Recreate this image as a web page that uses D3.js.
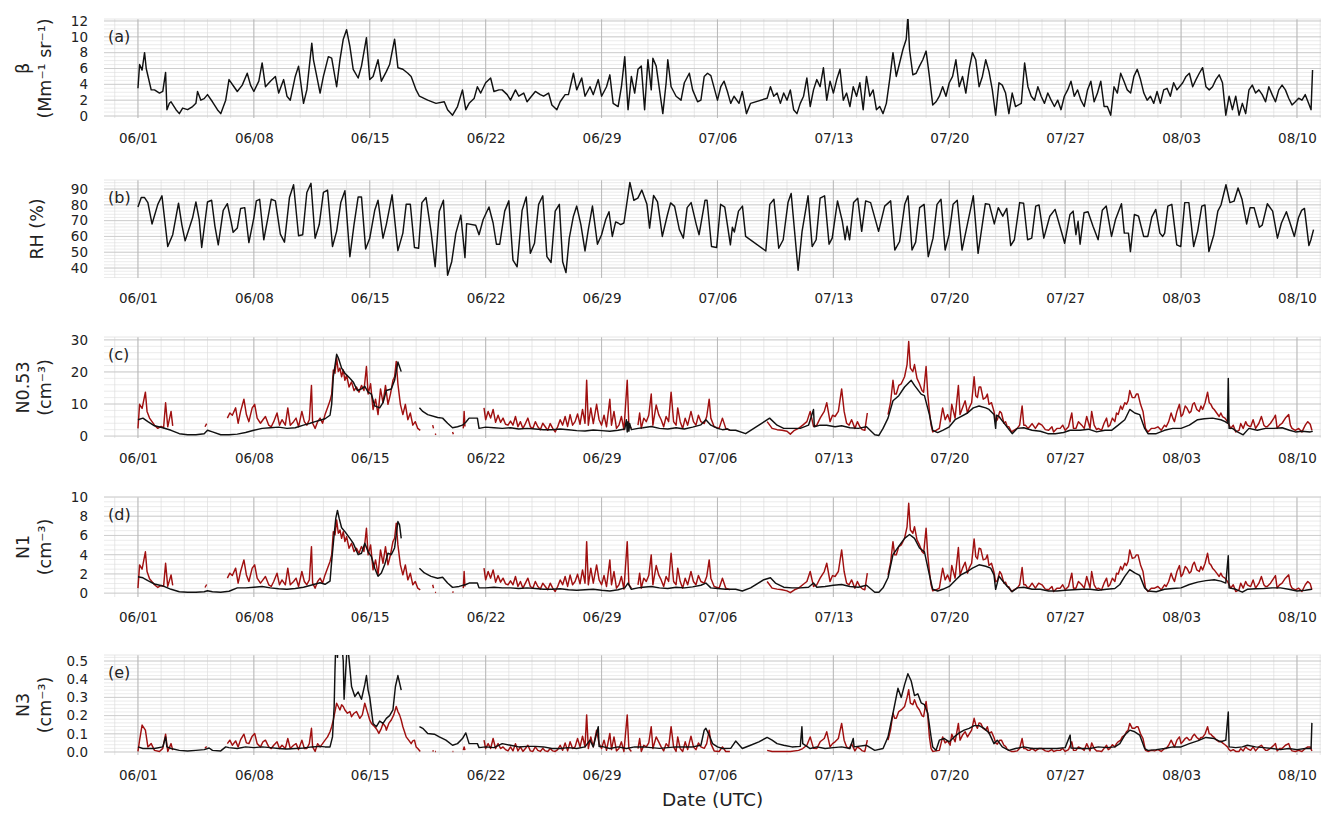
<!DOCTYPE html>
<html>
<head>
<meta charset="utf-8">
<script src="https://cdnjs.cloudflare.com/ajax/libs/d3/7.8.5/d3.min.js"></script>
<style>
  body { margin: 0; background: #fff; }
  svg { font-family: "DejaVu Sans", sans-serif; }
</style>
</head>
<body>
<div id="chart"></div>
<script>
// ---- data: [day offset from 06/01 00:00 UTC, value]; null = missing ----
const beta = [[0,3.5],[0.1,6.5],[0.25,5.8],[0.4,8.0],[0.5,6.0],[0.8,3.3],[1,3.3],[1.3,2.9],[1.5,3.1],[1.67,5.5],[1.75,0.8],[1.9,1.6],[2,1.8],[2.3,0.8],[2.5,0.3],[2.7,1.0],[3,0.8],[3.3,1.2],[3.5,1.6],[3.6,3.1],[3.8,2.0],[4,2.2],[4.2,2.7],[4.5,1.8],[4.8,0.8],[5,0.3],[5.3,2.0],[5.5,4.6],[5.8,3.7],[6,3.1],[6.3,3.9],[6.6,5.4],[6.8,3.9],[7,3.1],[7.3,4.4],[7.5,6.7],[7.7,3.7],[8,4.4],[8.3,5.0],[8.5,2.9],[8.8,4.6],[9,2.5],[9.2,2.0],[9.5,5.0],[9.7,6.3],[10,1.6],[10.2,3.3],[10.5,9.2],[10.6,7.1],[10.8,5.0],[11,2.9],[11.2,5.0],[11.5,7.5],[11.7,7.3],[12,3.7],[12.2,7.1],[12.4,9.7],[12.6,10.9],[12.8,8.8],[13,5.9],[13.3,4.8],[13.5,6.3],[13.6,7.5],[13.8,9.9],[14,4.6],[14.2,5.0],[14.5,7.1],[14.7,4.4],[15,5.6],[15.2,6.5],[15.5,9.7],[15.7,6.1],[16,5.9],[16.3,5.4],[16.5,5.0],[16.8,3.3],[17,2.5],[17.5,2.0],[18,1.6],[18.5,1.8],[18.7,0.8],[19,0.1],[19.3,1.2],[19.6,3.3],[19.8,0.8],[20,1.6],[20.3,2.2],[20.5,3.7],[20.7,2.9],[21,4.2],[21.3,4.8],[21.5,3.1],[21.8,3.3],[22,3.3],[22.3,2.7],[22.5,2.0],[22.8,3.3],[23,2.5],[23.3,2.9],[23.5,1.8],[24,3.1],[24.3,2.7],[24.5,2.5],[24.8,2.9],[25,1.4],[25.3,0.8],[25.5,1.8],[25.8,2.7],[26,2.7],[26.3,5.4],[26.5,3.3],[26.8,4.8],[27,2.5],[27.3,3.7],[27.5,2.7],[27.8,4.6],[28,2.5],[28.3,3.7],[28.5,5.2],[28.7,1.6],[29,1.2],[29.2,3.7],[29.4,7.5],[29.6,0.8],[29.8,5.0],[30,2.9],[30.2,5.9],[30.4,6.3],[30.6,0.8],[30.8,7.1],[31,3.3],[31.1,7.3],[31.3,6.3],[31.5,3.3],[31.7,0.3],[31.9,4.2],[32,7.1],[32.2,3.7],[32.5,2.5],[32.8,2.0],[33,4.2],[33.3,5.4],[33.5,3.3],[33.8,1.8],[34,2.0],[34.2,5.0],[34.4,5.4],[34.6,5.1],[35,2.0],[35.2,3.7],[35.4,4.4],[35.6,3.1],[35.8,1.6],[36,2.5],[36.3,1.6],[36.5,3.1],[36.75,0.3],[37,1.6],[38,2.25],[38.2,3.7],[38.4,2.5],[38.6,2.9],[38.8,1.6],[39,2.9],[39.2,2.0],[39.4,3.3],[39.6,0.8],[39.8,0.3],[40,1.6],[40.2,2.5],[40.4,4.8],[40.6,1.2],[40.8,3.3],[41,4.6],[41.2,3.7],[41.4,6.1],[41.6,2.0],[41.8,4.4],[42,2.9],[42.2,4.6],[42.4,5.9],[42.6,2.0],[42.8,2.9],[43,1.2],[43.2,3.7],[43.4,2.5],[43.6,4.2],[43.8,0.8],[44,5.0],[44.2,2.5],[44.4,3.3],[44.6,0.8],[44.8,1.2],[45,0.3],[45.2,1.6],[45.4,4.6],[45.6,8.0],[45.8,5.0],[46,6.7],[46.2,8.4],[46.4,9.7],[46.5,12.6],[46.6,8.4],[46.8,5.2],[47,5.4],[47.2,6.3],[47.4,7.1],[47.6,8.2],[47.8,5.0],[48,1.4],[48.2,1.8],[48.4,2.5],[48.6,3.7],[48.8,2.5],[49,4.2],[49.2,5.0],[49.4,7.1],[49.6,3.7],[49.8,5.0],[50,2.9],[50.2,5.9],[50.4,8.0],[50.6,7.1],[50.8,3.7],[51,5.0],[51.2,7.1],[51.4,5.6],[51.6,3.3],[51.8,0.1],[52,4.2],[52.2,3.9],[52.4,2.9],[52.6,0.3],[52.8,2.9],[53,1.2],[53.35,1.6],[53.55,6.7],[53.75,3.7],[53.95,2.5],[54.15,2.0],[54.35,3.7],[54.55,2.5],[54.75,1.6],[54.95,2.9],[55.15,2.0],[55.35,1.2],[55.55,2.0],[55.75,0.8],[55.95,2.5],[56.15,3.3],[56.35,4.4],[56.55,2.5],[56.75,3.3],[56.95,2.0],[57.15,1.2],[57.35,3.3],[57.55,4.4],[57.75,1.8],[57.95,2.9],[58.15,4.4],[58.35,1.2],[58.55,1.2],[58.75,0.1],[58.95,3.7],[59.15,2.9],[59.35,5.4],[59.55,4.4],[59.75,3.3],[59.95,2.9],[60.15,5.0],[60.35,5.9],[60.55,4.6],[60.75,2.9],[60.95,2.0],[61.15,2.5],[61.35,1.6],[61.55,3.1],[61.75,1.6],[61.95,3.3],[62.15,3.5],[62.35,2.5],[62.55,4.2],[62.75,3.3],[63.1,4.2],[63.3,5.0],[63.5,5.4],[63.7,3.7],[63.9,4.6],[64.1,5.4],[64.3,6.1],[64.5,3.7],[64.7,3.3],[64.9,3.7],[65.1,4.6],[65.3,5.2],[65.5,4.2],[65.7,0.1],[65.9,2.5],[66.1,0.8],[66.3,2.5],[66.5,0.1],[66.7,1.6],[66.9,0.3],[67.1,3.3],[67.3,3.9],[67.5,2.9],[67.7,3.3],[67.9,2.7],[68.1,1.8],[68.3,3.7],[68.5,2.7],[68.7,1.8],[68.9,3.3],[69.1,3.9],[69.3,3.3],[69.5,2.25],[69.7,1.4],[69.9,1.8],[70.1,2.25],[70.3,2.0],[70.5,2.7],[70.7,1.6],[70.85,0.8],[70.94,5.8]];

const rh = [[0,78.6],[0.2,84.6],[0.4,84.6],[0.6,81.4],[0.85,67.9],[1.2,80.3],[1.45,85.7],[1.8,53.6],[2.1,61.1],[2.45,81],[2.65,67.5],[2.85,57.2],[3.3,71.8],[3.5,81.8],[3.7,70.7],[3.85,53],[4.2,81.8],[4.45,82.9],[4.65,66.4],[4.85,54.7],[5.15,76.5],[5.4,80.7],[5.6,70.7],[5.75,62.6],[6.0,65.3],[6.2,77.7],[6.45,78.2],[6.7,56.1],[7.0,71.8],[7.15,82.5],[7.35,83.5],[7.6,57.9],[7.85,71.8],[8.05,83.5],[8.3,82.5],[8.6,61.5],[8.85,56.4],[9.15,84.6],[9.4,92.7],[9.7,60.4],[9.95,61.1],[10.2,87.8],[10.45,93.6],[10.7,58.9],[10.95,67.5],[11.2,87.8],[11.45,89.3],[11.75,53.6],[12.0,63.2],[12.25,81.4],[12.5,88.9],[12.8,47.2],[13.05,67.5],[13.3,85],[13.5,85],[13.75,52.1],[14.0,58.9],[14.3,76.5],[14.5,82.9],[14.8,58.9],[15.0,67.5],[15.35,86.3],[15.7,51],[16.0,62.1],[16.2,80.3],[16.45,80.3],[16.7,53],[16.95,52.5],[17.15,81.4],[17.4,84.6],[17.7,63.2],[17.95,40.8],[18.2,76],[18.45,82.9],[18.7,35.4],[18.95,44],[19.2,62.1],[19.5,73.5],[19.75,46.6],[19.85,68.1],[20.4,67.1],[20.6,61.1],[20.85,70.7],[21.2,78.6],[21.45,68.5],[21.65,55.1],[21.85,55.1],[22.15,76],[22.4,82.5],[22.65,45],[22.9,40.8],[23.2,76.5],[23.45,85],[23.7,49.3],[23.95,55.7],[24.2,80.3],[24.45,85.7],[24.7,47.2],[24.95,43.5],[25.2,76],[25.45,80.3],[25.65,44],[25.85,37.1],[26.05,58.9],[26.3,72.8],[26.5,79.2],[26.75,67.5],[27.0,50.8],[27.2,64.3],[27.45,79.2],[27.75,55.1],[28.0,61.1],[28.25,70.7],[28.45,75.6],[28.65,60],[28.85,69.2],[29.0,68.5],[29.15,67.5],[29.35,68.5],[29.71,94.2],[29.95,82.9],[30.19,84.2],[30.43,89.3],[30.74,80.3],[30.9,65.3],[31.14,85.9],[31.38,81.8],[31.67,60],[31.98,73.7],[32.17,81.2],[32.41,79],[32.7,64.3],[32.94,58.9],[33.17,78.2],[33.41,81.4],[33.72,67.5],[33.89,61.1],[34.25,82.9],[34.37,82.9],[34.64,53.6],[34.95,53],[35.19,80.3],[35.44,78.6],[35.78,54.7],[35.9,65.8],[36.02,62.8],[36.27,76],[36.51,79.2],[36.7,60],[37.92,50.8],[38.16,80.3],[38.41,83.5],[38.7,52.5],[38.97,57.9],[39.26,81.4],[39.45,87.2],[39.87,38.6],[40.11,63.2],[40.47,85.7],[40.72,53.6],[40.96,57.9],[41.2,84.2],[41.47,85.7],[41.74,55.1],[41.93,58.9],[42.25,82.5],[42.54,69.6],[42.71,57.9],[42.83,66.4],[42.98,57.9],[43.22,81.4],[43.47,84.2],[43.71,63.2],[43.95,82.5],[44.25,81.4],[44.73,63.2],[45.1,79.2],[45.46,82.5],[45.71,51.4],[46.0,56.8],[46.31,80.3],[46.51,85.7],[46.75,51.4],[46.97,56.4],[47.21,78.2],[47.48,80.3],[47.73,47.2],[48.02,58.9],[48.26,80.3],[48.5,83.5],[48.75,51.4],[48.99,61.1],[49.23,80.3],[49.48,82.9],[49.77,51.4],[50.09,67.5],[50.45,85.7],[50.74,49.3],[51.18,80.7],[51.42,80.3],[51.72,67.9],[51.96,78.2],[52.23,72.8],[52.47,77.7],[52.71,54.2],[52.93,57.9],[53.25,81.4],[53.49,81],[53.73,57.9],[53.98,58.9],[54.22,79.2],[54.42,79.9],[54.71,58.9],[55.07,72.8],[55.39,77.1],[55.68,66.4],[55.97,55.7],[56.29,73.9],[56.48,76],[56.65,61.1],[56.78,69.6],[56.9,55.1],[57.14,75],[57.38,75.6],[57.68,66.4],[57.99,57.9],[58.24,76.5],[58.48,79.2],[58.8,60],[59.04,70.7],[59.4,80.7],[59.57,62.1],[59.82,62.1],[59.94,50.4],[60.18,73.9],[60.43,72.8],[60.74,60],[60.99,60],[61.23,72.2],[61.47,77.1],[61.72,62.1],[61.89,60],[62.01,62.1],[62.2,79.2],[62.44,80.3],[62.74,54.7],[62.98,53.6],[63.22,81.4],[63.47,81.4],[63.76,53.6],[64.0,63.2],[64.25,79.2],[64.44,79.9],[64.68,50.4],[64.98,61.1],[65.22,76],[65.41,79.9],[65.71,92.7],[65.95,81.4],[66.2,82.3],[66.44,90.6],[66.68,83.5],[66.96,67.9],[67.17,78.2],[67.41,78.2],[67.73,65.8],[67.9,67.1],[68.21,80.7],[68.53,76],[68.82,58.9],[69.06,68.5],[69.36,75.6],[69.6,67.9],[69.84,60],[70.09,71.8],[70.28,76.5],[70.45,77.7],[70.72,54.2],[70.84,57.9],[71.0,64.3]];

const n053Black = [[0,5.1],[0.3,5.6],[0.6,4.5],[1,3.2],[1.5,2.6],[2,1.8],[2.5,0.75],[3,0.4],[3.5,0.4],[4,0.75],[4.2,1.8],[4.5,1.3],[5,0.4],[5.5,0.4],[6,0.6],[6.5,1.1],[7,1.8],[7.5,2.4],[8,2.6],[8.5,2.8],[9,2.4],[9.5,2.6],[10,3.4],[10.4,4.0],[10.7,4.5],[11.1,5.1],[11.3,5.4],[11.6,6.5],[11.7,9.9],[11.8,18.5],[12.0,25.5],[12.1,24.4],[12.3,21.2],[12.5,19.6],[12.8,18.0],[13.0,16.9],[13.25,14.2],[13.5,14.7],[13.7,15.5],[13.9,13.7],[14.1,13.1],[14.3,9.4],[14.6,8.8],[14.8,10.4],[15.0,14.2],[15.3,14.7],[15.5,17.4],[15.7,23.1],[15.9,20.1],[15.95,null],[17.0,8.8],[17.2,7.7],[17.5,6.7],[18.1,5.8],[18.4,5.6],[18.7,4.0],[19.0,2.6],[19.3,2.9],[19.6,3.4],[19.8,4.3],[20.0,5.6],[20.5,5.6],[20.6,2.4],[21,2.8],[21.5,2.6],[22,2.4],[22.5,2.6],[23,2.2],[23.5,2.4],[24,2.2],[24.5,2.0],[25,2.0],[25.5,2.2],[26,2.0],[26.5,1.7],[27,1.6],[27.5,1.9],[28,1.7],[28.5,1.5],[29,1.8],[29.4,2.2],[29.5,5.1],[29.55,1.3],[29.6,4.5],[29.65,1.5],[29.7,3.9],[29.8,2.0],[30.2,2.4],[30.5,2.6],[31,3.0],[31.5,2.4],[32,2.2],[32.5,2.6],[33,2.2],[33.5,2.8],[34,3.5],[34.3,5.1],[34.6,3.4],[35.0,2.4],[35.3,2.0],[35.6,2.2],[35.8,1.8],[36.1,1.8],[36.7,0.75],[38.15,5.6],[38.6,3.4],[39.0,2.4],[39.5,2.4],[40.0,2.4],[40.5,3.4],[40.8,8.3],[40.85,2.9],[41.2,3.4],[41.6,3.4],[42.1,2.9],[42.5,3.2],[43.0,2.6],[43.5,2.4],[44.0,2.9],[44.5,0.4],[44.75,0.2],[45.0,2.4],[45.3,5.6],[45.6,11.0],[45.95,12.6],[46.3,15.3],[46.7,17.4],[46.9,15.8],[47.3,13.1],[47.5,12.6],[47.8,6.7],[48.0,1.8],[48.3,1.1],[48.6,1.8],[49.0,2.9],[49.35,5.1],[49.7,6.1],[50.1,7.2],[50.45,8.8],[50.8,9.4],[51.2,8.8],[51.4,8.3],[51.7,6.7],[51.8,2.4],[51.85,6.5],[52.0,6.1],[52.4,3.4],[52.8,0.75],[53.1,2.4],[53.5,2.6],[54.0,1.8],[54.5,1.5],[54.95,0.75],[55.4,0.75],[55.9,1.1],[56.3,1.8],[56.9,1.8],[57.4,2.15],[57.9,1.3],[58.4,1.8],[58.8,1.8],[59.2,3.4],[59.6,5.1],[59.9,8.3],[60.2,7.2],[60.5,6.7],[60.8,2.4],[61.0,0.75],[61.5,0.75],[62.0,1.8],[62.5,2.4],[63.0,2.4],[63.5,3.4],[64.0,5.1],[64.4,5.4],[64.9,5.6],[65.4,5.1],[65.66,4.5],[65.8,4.0],[65.85,18.0],[65.9,2.4],[66.1,2.4],[66.4,1.3],[66.75,0.4],[67.1,2.4],[67.6,1.8],[68.1,2.4],[68.6,2.4],[69.1,2.6],[69.55,1.8],[69.9,1.3],[70.3,1.5],[70.8,1.3],[70.95,1.5]];

const n053Red = [[0,2.4],[0.1,9.9],[0.25,8.6],[0.45,13.7],[0.55,7.7],[0.7,5.6],[0.85,4.5],[1.0,3.4],[1.2,2.4],[1.4,3.0],[1.55,2.6],[1.67,10.4],[1.8,2.9],[2.0,7.7],[2.1,3.2],[2.2,null],[4.05,2.9],[4.15,3.9],[4.25,null],[5.4,5.6],[5.55,7.2],[5.7,6.5],[5.9,8.8],[6.05,4.0],[6.2,7.7],[6.4,11.5],[6.55,6.7],[6.7,4.5],[6.9,8.8],[7.05,9.9],[7.2,5.6],[7.4,4.0],[7.55,5.1],[7.7,6.1],[7.9,3.4],[8.05,2.9],[8.2,4.5],[8.4,7.2],[8.55,3.4],[8.7,5.1],[8.9,3.4],[9.05,8.8],[9.2,3.4],[9.4,4.5],[9.55,5.6],[9.7,2.9],[9.9,7.7],[10.05,4.5],[10.2,3.4],[10.35,5.1],[10.48,15.8],[10.55,4.0],[10.7,2.4],[10.85,4.5],[11.0,5.6],[11.15,4.0],[11.3,6.7],[11.45,8.8],[11.6,11.0],[11.7,13.1],[11.8,20.6],[11.9,19.6],[12.0,24.4],[12.1,20.1],[12.2,21.2],[12.3,18.5],[12.4,20.6],[12.5,17.4],[12.6,19.0],[12.75,15.3],[12.9,16.9],[13.05,14.2],[13.2,15.3],[13.35,13.7],[13.5,15.8],[13.65,14.2],[13.8,21.7],[13.9,13.1],[14.05,16.3],[14.2,8.3],[14.35,11.5],[14.5,6.7],[14.65,14.7],[14.8,10.4],[14.95,15.8],[15.1,9.9],[15.25,13.1],[15.4,17.4],[15.5,18.5],[15.6,23.3],[15.7,16.3],[15.85,9.9],[16.0,6.7],[16.15,9.9],[16.3,5.1],[16.45,7.2],[16.6,3.4],[16.75,4.5],[16.9,2.4],[17.05,1.8],[17.1,null],[17.8,3.4],[17.85,2.4],[17.9,null],[17.95,0.75],[18.0,0.4],[18.05,null],[19.0,1.3],[19.05,0.6],[19.1,null],[19.65,2.4],[19.7,7.7],[19.75,3.0],[19.8,null],[20.9,8.8],[21.0,5.1],[21.15,7.7],[21.3,5.6],[21.45,8.3],[21.6,4.3],[21.75,6.5],[21.9,4.3],[22.05,5.6],[22.2,3.7],[22.35,3.4],[22.5,4.7],[22.65,3.4],[22.8,6.1],[22.95,2.9],[23.1,4.5],[23.25,2.4],[23.4,3.9],[23.55,5.6],[23.7,2.9],[23.85,2.4],[24.0,4.5],[24.15,2.9],[24.3,2.0],[24.45,4.0],[24.6,2.9],[24.75,1.8],[24.9,3.9],[25.05,2.4],[25.2,1.3],[25.35,2.9],[25.5,5.1],[25.65,3.4],[25.8,6.1],[25.95,3.0],[26.1,6.7],[26.25,3.4],[26.4,4.5],[26.55,6.9],[26.7,3.7],[26.85,8.3],[27.0,4.0],[27.1,17.4],[27.2,3.4],[27.35,8.8],[27.5,3.9],[27.7,9.9],[27.85,5.1],[28.0,3.4],[28.15,6.5],[28.3,2.9],[28.5,11.5],[28.6,3.4],[28.75,7.7],[28.9,2.4],[29.05,3.4],[29.2,6.1],[29.35,2.0],[29.55,17.4],[29.65,3.4],[29.8,2.4],[29.9,null],[30.2,3.4],[30.3,7.2],[30.4,2.4],[30.55,5.6],[30.7,4.5],[30.85,6.5],[31.0,13.1],[31.1,3.4],[31.3,9.7],[31.45,6.7],[31.6,5.1],[31.75,2.9],[31.9,6.1],[32.05,4.5],[32.2,13.7],[32.35,4.5],[32.5,3.4],[32.6,8.8],[32.75,4.5],[32.9,2.4],[33.05,5.6],[33.2,3.4],[33.4,7.7],[33.55,4.5],[33.7,3.4],[33.85,6.5],[34.0,4.5],[34.2,3.9],[34.35,6.1],[34.5,11.5],[34.6,5.6],[34.8,2.9],[35.1,2.4],[35.3,5.6],[35.5,2.4],[35.75,1.8],[35.8,null],[38.0,4.5],[38.3,2.4],[38.6,2.0],[38.9,1.8],[39.2,1.5],[39.4,0.6],[39.65,1.8],[39.9,2.4],[40.15,3.4],[40.4,4.5],[40.6,7.7],[40.8,3.0],[41.0,3.4],[41.2,5.6],[41.45,7.7],[41.6,10.4],[41.8,4.5],[41.95,6.5],[42.1,6.1],[42.3,7.7],[42.5,14.7],[42.65,7.7],[42.8,4.0],[42.95,3.4],[43.1,5.1],[43.3,2.4],[43.45,4.5],[43.6,2.9],[43.75,2.0],[43.9,1.8],[44.05,7.2],[44.15,null],[45.3,6.7],[45.45,10.4],[45.6,17.4],[45.7,13.1],[45.8,13.1],[45.95,15.8],[46.1,16.3],[46.3,18.5],[46.45,22.3],[46.55,29.5],[46.65,21.2],[46.8,20.1],[46.9,22.3],[47.05,18.0],[47.2,16.3],[47.35,14.2],[47.45,13.7],[47.6,21.7],[47.7,13.1],[47.8,7.7],[47.9,3.4],[48.0,1.3],[48.2,1.8],[48.4,2.4],[48.6,8.8],[48.75,5.1],[48.9,6.7],[49.05,4.5],[49.15,9.9],[49.35,5.6],[49.55,15.8],[49.65,6.7],[49.8,8.8],[49.96,11.0],[50.1,7.2],[50.2,8.8],[50.35,10.4],[50.5,18.5],[50.6,12.6],[50.7,12.0],[50.8,15.3],[50.9,15.3],[51.05,11.5],[51.2,12.0],[51.3,13.1],[51.4,9.9],[51.55,10.4],[51.7,7.7],[51.8,4.5],[51.9,5.1],[52.05,7.7],[52.15,7.2],[52.3,4.0],[52.4,4.5],[52.5,2.9],[52.6,2.9],[52.75,1.3],[52.9,1.8],[53.1,2.4],[53.25,3.4],[53.4,9.4],[53.5,3.4],[53.6,3.4],[53.75,2.4],[53.85,2.9],[54.0,3.9],[54.2,2.4],[54.4,4.0],[54.6,3.4],[54.8,2.0],[55.0,1.8],[55.2,2.9],[55.3,1.3],[55.5,2.4],[55.7,2.4],[55.85,3.4],[56.0,1.8],[56.2,2.9],[56.4,7.2],[56.5,2.4],[56.65,2.4],[56.8,4.5],[57.0,3.4],[57.15,2.4],[57.3,6.1],[57.5,2.4],[57.6,7.7],[57.75,3.4],[57.9,2.0],[58.0,2.4],[58.2,1.8],[58.35,4.0],[58.5,5.6],[58.6,2.9],[58.7,3.4],[58.85,5.6],[59.0,4.5],[59.1,7.2],[59.2,6.7],[59.35,9.4],[59.45,8.3],[59.6,10.4],[59.7,9.9],[59.8,11.0],[59.9,14.2],[60.05,12.0],[60.2,12.0],[60.3,13.1],[60.4,13.1],[60.55,9.9],[60.7,7.7],[60.85,2.4],[61.0,1.3],[61.2,2.4],[61.4,2.4],[61.6,2.9],[61.8,1.8],[62.0,3.4],[62.1,2.9],[62.25,4.5],[62.4,7.2],[62.5,5.6],[62.6,4.5],[62.75,7.7],[62.9,9.9],[63.0,6.1],[63.1,6.7],[63.25,9.4],[63.35,8.8],[63.5,7.2],[63.6,7.7],[63.7,9.9],[63.8,10.4],[63.95,8.3],[64.1,7.7],[64.2,9.4],[64.3,8.3],[64.45,10.4],[64.6,13.7],[64.7,10.4],[64.8,9.9],[64.9,8.8],[65.0,8.3],[65.15,7.2],[65.3,6.1],[65.4,7.2],[65.5,6.1],[65.65,5.6],[65.8,4.5],[65.9,3.4],[66.0,2.4],[66.15,3.4],[66.3,1.3],[66.5,1.8],[66.6,3.9],[66.75,2.4],[66.9,4.5],[67.0,3.4],[67.2,2.9],[67.35,5.1],[67.5,2.4],[67.7,4.0],[67.85,6.1],[68.0,3.4],[68.1,2.9],[68.2,2.9],[68.4,4.0],[68.6,5.6],[68.7,6.5],[68.8,2.4],[68.95,3.4],[69.1,4.0],[69.3,5.6],[69.5,6.7],[69.6,3.4],[69.7,2.4],[69.9,1.8],[70.1,2.4],[70.3,1.3],[70.5,3.4],[70.65,4.5],[70.8,3.7],[70.9,1.8]];

const n1Black = [[0,1.7],[0.3,1.6],[0.6,1.3],[1,0.95],[1.5,0.75],[2,0.4],[2.5,0.15],[3,0.1],[3.5,0.1],[4,0.15],[4.2,0.25],[4.5,0.15],[5,0.1],[5.5,0.2],[6,0.55],[6.5,0.55],[7,0.62],[7.5,0.7],[8,0.55],[8.5,0.45],[9,0.4],[9.5,0.48],[10,0.62],[10.5,0.85],[11,1.08],[11.3,0.92],[11.6,1.25],[11.7,3.3],[11.85,6.1],[11.95,7.8],[12.05,8.6],[12.15,7.8],[12.3,6.8],[12.5,6.4],[12.8,5.7],[13.0,5.2],[13.3,4.0],[13.5,4.15],[13.7,5.2],[13.9,4.3],[14.1,3.8],[14.3,2.6],[14.5,1.75],[14.7,2.1],[14.9,2.95],[15.1,4.15],[15.3,4.0],[15.5,4.7],[15.7,7.45],[15.8,7.1],[15.9,5.7],[15.95,null],[17.0,2.6],[17.3,2.1],[17.7,1.75],[18.1,1.55],[18.4,1.65],[18.7,1.05],[19.0,0.6],[19.4,0.7],[19.8,0.9],[20.0,1.05],[20.5,1.05],[20.6,0.55],[21,0.55],[21.5,0.62],[22,0.55],[22.5,0.55],[23,0.48],[23.5,0.55],[24,0.48],[24.5,0.4],[25,0.4],[25.5,0.45],[26,0.35],[26.5,0.3],[27,0.35],[27.5,0.4],[28,0.3],[28.5,0.22],[29,0.35],[29.4,0.55],[29.6,1.05],[29.8,0.4],[30.2,0.55],[30.5,0.62],[31,0.7],[31.5,0.55],[32,0.48],[32.5,0.62],[33,0.55],[33.5,0.65],[34,0.82],[34.3,1.05],[34.6,0.55],[35,0.48],[35.5,0.4],[36.1,0.4],[36.5,0.22],[37,0.55],[37.8,1.4],[38.2,1.6],[38.5,1.05],[39,0.62],[39.5,0.55],[40,0.55],[40.5,0.62],[40.8,1.05],[41,0.62],[41.5,0.7],[42,0.82],[42.5,0.9],[43,0.7],[43.5,0.62],[44,0.82],[44.5,0.1],[44.75,0.1],[45,0.55],[45.3,1.6],[45.6,4.0],[46,5.0],[46.3,5.7],[46.6,6.1],[46.9,5.7],[47.2,4.7],[47.5,4.3],[47.8,1.9],[48,0.4],[48.3,0.22],[48.6,0.4],[49,0.7],[49.4,1.4],[49.7,1.9],[50.1,2.25],[50.4,2.6],[50.8,2.95],[51.2,2.8],[51.5,2.6],[51.7,1.9],[51.8,0.4],[52,1.75],[52.4,0.9],[52.8,0.15],[53.1,0.55],[53.5,0.62],[54,0.4],[54.5,0.4],[55,0.22],[55.5,0.22],[56,0.3],[56.5,0.35],[57,0.4],[57.5,0.4],[58,0.3],[58.5,0.4],[59,0.48],[59.3,0.9],[59.6,1.75],[59.9,2.45],[60.2,2.1],[60.5,1.85],[60.8,0.55],[61,0.22],[61.5,0.15],[62,0.4],[62.5,0.48],[63,0.55],[63.5,0.9],[64,1.15],[64.5,1.3],[65,1.4],[65.4,1.25],[65.7,1.05],[65.85,3.9],[65.9,0.55],[66.3,0.4],[66.7,0.1],[67,0.4],[67.5,0.45],[68,0.48],[68.5,0.55],[69,0.55],[69.5,0.4],[70,0.22],[70.5,0.3],[70.9,0.4]];

const n1Red = [[0,0.52],[0.1,2.94],[0.25,2.5],[0.45,4.3],[0.55,2.25],[0.7,1.5],[0.85,1.2],[1.0,0.87],[1.2,0.59],[1.4,0.8],[1.55,0.7],[1.67,3.1],[1.8,0.7],[2.0,1.9],[2.1,0.8],[2.2,null],[4.05,0.59],[4.15,0.9],[4.25,null],[5.4,1.56],[5.55,2.08],[5.7,1.83],[5.9,2.6],[6.05,1.04],[6.2,2.25],[6.4,3.46],[6.55,1.9],[6.7,1.21],[6.9,2.6],[7.05,2.94],[7.2,1.56],[7.4,1.04],[7.55,1.38],[7.7,1.73],[7.9,0.87],[8.05,0.69],[8.2,1.21],[8.4,2.08],[8.55,0.87],[8.7,1.38],[8.9,0.87],[9.05,2.6],[9.2,0.87],[9.4,1.21],[9.55,1.56],[9.7,0.69],[9.9,2.25],[10.05,1.21],[10.2,0.87],[10.35,1.38],[10.48,4.84],[10.55,1.04],[10.7,0.52],[10.85,1.21],[11.0,1.56],[11.15,1.04],[11.3,1.9],[11.45,2.6],[11.6,3.29],[11.7,3.98],[11.8,6.4],[11.9,6.06],[12.0,7.62],[12.1,6.23],[12.2,6.57],[12.3,5.71],[12.4,6.4],[12.5,5.36],[12.6,5.88],[12.75,4.67],[12.9,5.19],[13.05,4.33],[13.2,4.67],[13.35,4.15],[13.5,4.84],[13.65,4.33],[13.8,6.75],[13.9,3.98],[14.05,5.02],[14.2,2.42],[14.35,3.46],[14.5,1.9],[14.65,4.5],[14.8,3.11],[14.95,4.84],[15.1,2.94],[15.25,3.98],[15.4,5.36],[15.5,5.71],[15.6,7.27],[15.7,5.02],[15.85,2.94],[16.0,1.9],[16.15,2.94],[16.3,1.38],[16.45,2.08],[16.6,0.87],[16.75,1.21],[16.9,0.52],[17.05,0.35],[17.1,null],[17.8,0.87],[17.85,0.52],[17.9,null],[17.95,0.1],[18.0,0.05],[18.05,null],[19.0,0.17],[19.05,0.05],[19.1,null],[19.65,0.52],[19.7,2.25],[19.75,0.7],[19.8,null],[20.9,2.6],[21.0,1.38],[21.15,2.25],[21.3,1.56],[21.45,2.42],[21.6,1.14],[21.75,1.83],[21.9,1.14],[22.05,1.56],[22.2,0.97],[22.35,0.87],[22.5,1.28],[22.65,0.87],[22.8,1.73],[22.95,0.69],[23.1,1.21],[23.25,0.52],[23.4,1.04],[23.55,1.56],[23.7,0.69],[23.85,0.52],[24.0,1.21],[24.15,0.69],[24.3,0.42],[24.45,1.04],[24.6,0.69],[24.75,0.35],[24.9,1.04],[25.05,0.52],[25.2,0.17],[25.35,0.69],[25.5,1.38],[25.65,0.87],[25.8,1.73],[25.95,0.7],[26.1,1.9],[26.25,0.87],[26.4,1.21],[26.55,1.97],[26.7,0.97],[26.85,2.42],[27.0,1.04],[27.1,5.36],[27.2,0.87],[27.35,2.6],[27.5,1.04],[27.7,2.94],[27.85,1.38],[28.0,0.87],[28.15,1.83],[28.3,0.69],[28.5,3.46],[28.6,0.87],[28.75,2.25],[28.9,0.52],[29.05,0.87],[29.2,1.73],[29.35,0.42],[29.55,5.36],[29.65,0.87],[29.8,0.52],[29.9,null],[30.2,0.87],[30.3,2.08],[30.4,0.52],[30.55,1.56],[30.7,1.21],[30.85,1.83],[31.0,3.98],[31.1,0.87],[31.3,2.87],[31.45,1.9],[31.6,1.38],[31.75,0.69],[31.9,1.73],[32.05,1.21],[32.2,4.15],[32.35,1.21],[32.5,0.87],[32.6,2.6],[32.75,1.21],[32.9,0.52],[33.05,1.56],[33.2,0.87],[33.4,2.25],[33.55,1.21],[33.7,0.87],[33.85,1.83],[34.0,1.21],[34.2,1.04],[34.35,1.73],[34.5,3.46],[34.6,1.56],[34.8,0.69],[35.1,0.52],[35.3,1.56],[35.5,0.52],[35.75,0.35],[35.8,null],[38.0,1.21],[38.3,0.52],[38.6,0.42],[38.9,0.35],[39.2,0.24],[39.4,0.05],[39.65,0.35],[39.9,0.52],[40.15,0.87],[40.4,1.21],[40.6,2.25],[40.8,0.7],[41.0,0.87],[41.2,1.56],[41.45,2.25],[41.6,3.11],[41.8,1.21],[41.95,1.83],[42.1,1.73],[42.3,2.25],[42.5,4.5],[42.65,2.25],[42.8,1.04],[42.95,0.87],[43.1,1.38],[43.3,0.52],[43.45,1.21],[43.6,0.69],[43.75,0.45],[43.9,0.35],[44.05,2.08],[44.15,null],[45.3,1.9],[45.45,3.11],[45.6,5.36],[45.7,3.98],[45.8,3.98],[45.95,4.84],[46.1,5.02],[46.3,5.71],[46.45,6.9],[46.55,9.34],[46.65,6.57],[46.8,6.23],[46.9,6.92],[47.05,5.54],[47.2,5.02],[47.35,4.33],[47.45,4.15],[47.6,6.75],[47.7,3.98],[47.8,2.25],[47.9,0.87],[48.0,0.24],[48.2,0.35],[48.4,0.52],[48.6,2.6],[48.75,1.38],[48.9,1.9],[49.05,1.21],[49.15,2.87],[49.35,1.56],[49.55,4.74],[49.65,1.9],[49.8,2.6],[49.96,3.22],[50.1,2.08],[50.2,2.6],[50.35,3.11],[50.5,5.64],[50.6,3.8],[50.7,3.56],[50.8,4.67],[50.9,4.6],[51.05,3.46],[51.2,3.56],[51.3,3.98],[51.4,2.87],[51.55,3.11],[51.7,2.18],[51.8,1.21],[51.9,1.28],[52.05,2.25],[52.15,1.97],[52.3,1.04],[52.4,1.14],[52.5,0.69],[52.6,0.66],[52.75,0.17],[52.9,0.35],[53.1,0.52],[53.25,0.87],[53.4,2.66],[53.5,0.87],[53.6,0.87],[53.75,0.52],[53.85,0.66],[54.0,1.04],[54.2,0.52],[54.4,1.04],[54.6,0.87],[54.8,0.42],[55.0,0.35],[55.2,0.69],[55.3,0.17],[55.5,0.52],[55.7,0.52],[55.85,0.87],[56.0,0.35],[56.2,0.69],[56.4,2.08],[56.5,0.52],[56.65,0.52],[56.8,1.21],[57.0,0.87],[57.15,0.52],[57.3,1.73],[57.5,0.52],[57.6,2.25],[57.75,0.87],[57.9,0.42],[58.0,0.52],[58.2,0.35],[58.35,1.04],[58.5,1.56],[58.6,0.69],[58.7,0.87],[58.85,1.56],[59.0,1.21],[59.1,2.08],[59.2,1.97],[59.35,2.77],[59.45,2.42],[59.6,3.11],[59.7,2.87],[59.8,3.29],[59.9,4.5],[60.05,3.63],[60.2,3.7],[60.3,3.98],[60.4,3.98],[60.55,2.94],[60.7,2.25],[60.85,0.52],[61.0,0.17],[61.2,0.52],[61.4,0.52],[61.6,0.69],[61.8,0.35],[62.0,0.87],[62.1,0.69],[62.25,1.21],[62.4,2.08],[62.5,1.56],[62.6,1.21],[62.75,2.25],[62.9,2.87],[63.0,1.73],[63.1,1.97],[63.25,2.77],[63.35,2.6],[63.5,2.08],[63.6,2.25],[63.7,2.94],[63.8,3.22],[63.95,2.42],[64.1,2.25],[64.2,2.77],[64.3,2.42],[64.45,3.11],[64.6,4.15],[64.7,3.11],[64.8,2.94],[64.9,2.6],[65.0,2.42],[65.15,2.08],[65.3,1.73],[65.4,2.08],[65.5,1.73],[65.65,1.56],[65.8,1.21],[65.9,0.87],[66.0,0.52],[66.15,0.87],[66.3,0.17],[66.5,0.35],[66.6,1.04],[66.75,0.52],[66.9,1.21],[67.0,0.87],[67.2,0.69],[67.35,1.38],[67.5,0.52],[67.7,1.04],[67.85,1.73],[68.0,0.87],[68.1,0.69],[68.2,0.69],[68.4,1.04],[68.6,1.56],[68.7,1.83],[68.8,0.52],[68.95,0.87],[69.1,1.04],[69.3,1.56],[69.5,1.9],[69.6,0.87],[69.7,0.52],[69.9,0.35],[70.1,0.52],[70.3,0.17],[70.5,0.87],[70.65,1.21],[70.8,0.97],[70.9,0.35]];

const n3Black = [[0,0.028],[0.3,0.019],[1,0.019],[1.5,0.028],[1.67,0.083],[1.75,0.028],[2,0.019],[2.5,0.009],[3,0.006],[3.5,0.009],[4,0.013],[4.3,0.022],[4.5,0.009],[5,0.006],[5.3,0.028],[5.5,0.024],[6,0.019],[6.5,0.028],[7,0.024],[7.5,0.028],[8,0.024],[8.5,0.019],[9,0.017],[9.5,0.019],[10,0.022],[10.5,0.028],[11,0.031],[11.3,0.028],[11.6,0.028],[11.75,0.083],[11.85,0.25],[11.9,0.45],[11.95,0.6],[12.05,0.52],[12.1,0.6],[12.2,0.56],[12.3,0.6],[12.4,0.5],[12.45,0.29],[12.55,0.45],[12.65,0.6],[12.75,0.51],[12.9,0.36],[13.1,0.305],[13.3,0.33],[13.5,0.29],[13.7,0.37],[13.8,0.42],[13.9,0.34],[14.0,0.3],[14.2,0.157],[14.4,0.139],[14.6,0.17],[14.8,0.157],[15.0,0.185],[15.2,0.2],[15.4,0.231],[15.55,0.36],[15.7,0.42],[15.8,0.38],[15.9,0.34],[15.95,null],[17.0,0.139],[17.2,0.13],[17.5,0.102],[17.9,0.098],[18.2,0.083],[18.6,0.065],[19.0,0.037],[19.3,0.046],[19.6,0.074],[19.8,0.105],[20.0,0.046],[20.5,0.046],[20.6,0.024],[21,0.028],[21.5,0.024],[22,0.046],[22.5,0.037],[23,0.028],[23.5,0.031],[24,0.031],[24.5,0.028],[25,0.019],[25.5,0.019],[26,0.024],[26.5,0.019],[27,0.028],[27.3,0.065],[27.5,0.028],[27.8,0.139],[27.85,0.03],[28,0.031],[28.5,0.019],[29,0.028],[29.5,0.019],[30,0.028],[30.5,0.028],[31,0.024],[31.5,0.02],[32,0.024],[32.5,0.028],[33,0.028],[33.5,0.028],[34,0.037],[34.2,0.12],[34.3,0.13],[34.5,0.093],[34.7,0.046],[35,0.028],[35.3,0.019],[35.8,0.02],[36.1,0.06],[36.5,0.019],[37,0.037],[37.5,0.056],[38.0,0.08],[38.3,0.065],[38.6,0.046],[39,0.037],[39.5,0.028],[40,0.031],[40.1,0.139],[40.15,0.046],[40.6,0.019],[41,0.028],[41.5,0.019],[42,0.024],[42.5,0.028],[43,0.019],[43.2,0.074],[43.25,0.028],[44,0.037],[44.5,0.009],[45,0.019],[45.3,0.083],[45.6,0.213],[45.9,0.35],[46.1,0.3],[46.3,0.37],[46.5,0.43],[46.7,0.39],[46.9,0.31],[47.1,0.32],[47.3,0.27],[47.5,0.26],[47.7,0.213],[47.9,0.083],[48.0,0.028],[48.2,0.009],[48.4,0.065],[48.7,0.074],[49.0,0.056],[49.3,0.083],[49.6,0.105],[49.9,0.12],[50.2,0.13],[50.5,0.145],[50.8,0.145],[51.1,0.13],[51.4,0.105],[51.7,0.046],[51.9,0.065],[52.2,0.028],[52.6,0.009],[53,0.019],[53.5,0.028],[54,0.019],[54.5,0.019],[55,0.019],[55.5,0.019],[56,0.024],[56.3,0.093],[56.35,0.022],[57,0.019],[57.5,0.019],[58,0.028],[58.5,0.024],[59,0.028],[59.3,0.046],[59.6,0.093],[59.9,0.12],[60.2,0.111],[60.5,0.093],[60.8,0.019],[61.0,0.009],[61.5,0.013],[62,0.019],[62.5,0.028],[63,0.028],[63.5,0.046],[64,0.061],[64.5,0.08],[65,0.074],[65.4,0.056],[65.7,0.065],[65.85,0.22],[65.9,0.028],[66.3,0.024],[66.7,0.028],[67,0.037],[67.5,0.028],[68,0.024],[68.5,0.019],[69,0.013],[69.5,0.019],[70,0.013],[70.5,0.019],[70.85,0.019],[70.9,0.16]];

const n3Red = [[0,0.003],[0.1,0.065],[0.25,0.148],[0.45,0.12],[0.6,0.028],[0.8,0.046],[1.0,0.009],[1.3,0.003],[1.5,0.02],[1.67,0.098],[1.8,0.003],[2.0,0.046],[2.1,0.01],[2.2,null],[4.05,0.02],[4.15,0.03],[4.25,null],[5.4,0.046],[5.55,0.065],[5.7,0.037],[5.9,0.061],[6.05,0.028],[6.2,0.068],[6.4,0.098],[6.55,0.05],[6.7,0.046],[6.9,0.087],[7.05,0.102],[7.2,0.046],[7.4,0.028],[7.55,0.056],[7.7,0.065],[7.9,0.028],[8.05,0.019],[8.2,0.037],[8.4,0.056],[8.55,0.019],[8.7,0.037],[8.9,0.019],[9.05,0.074],[9.2,0.019],[9.4,0.037],[9.55,0.046],[9.7,0.013],[9.9,0.065],[10.05,0.019],[10.2,0.019],[10.35,0.046],[10.48,0.13],[10.55,0.028],[10.7,0.003],[10.85,0.046],[11.0,0.028],[11.15,0.046],[11.3,0.065],[11.45,0.083],[11.6,0.111],[11.7,0.139],[11.8,0.176],[11.9,0.222],[12.0,0.268],[12.1,0.25],[12.2,0.231],[12.3,0.259],[12.4,0.25],[12.5,0.231],[12.65,0.213],[12.8,0.222],[12.9,0.194],[13.05,0.213],[13.2,0.222],[13.4,0.185],[13.55,0.204],[13.7,0.268],[13.85,0.222],[14.0,0.176],[14.1,0.157],[14.3,0.139],[14.45,0.12],[14.55,0.102],[14.7,0.13],[14.8,0.157],[14.95,0.139],[15.0,0.12],[15.15,0.157],[15.3,0.176],[15.45,0.204],[15.6,0.25],[15.7,0.222],[15.8,0.204],[15.9,0.176],[16.0,0.139],[16.1,0.111],[16.2,0.083],[16.35,0.065],[16.5,0.046],[16.6,0.061],[16.7,0.065],[16.8,0.028],[16.9,0.019],[17.05,0.003],[17.1,null],[17.8,0.009],[17.85,0.003],[17.9,null],[17.95,0.003],[18.0,0.003],[18.05,null],[19.0,0.003],[19.05,0.003],[19.1,null],[19.65,0.01],[19.7,0.028],[19.75,0.01],[19.8,null],[20.9,0.065],[21.0,0.019],[21.15,0.046],[21.3,0.019],[21.45,0.074],[21.6,0.019],[21.75,0.046],[21.9,0.019],[22.05,0.028],[22.2,0.013],[22.35,0.006],[22.5,0.028],[22.65,0.006],[22.8,0.046],[22.95,0.006],[23.1,0.028],[23.25,0.003],[23.4,0.019],[23.55,0.037],[23.7,0.006],[23.85,0.003],[24.0,0.028],[24.15,0.009],[24.3,0.003],[24.45,0.02],[24.6,0.006],[24.75,0.003],[24.9,0.019],[25.05,0.006],[25.2,0.003],[25.35,0.013],[25.5,0.037],[25.65,0.009],[25.8,0.05],[25.95,0.006],[26.1,0.056],[26.25,0.019],[26.4,0.028],[26.55,0.074],[26.7,0.028],[26.85,0.087],[27.0,0.028],[27.1,0.204],[27.2,0.019],[27.35,0.083],[27.5,0.028],[27.7,0.12],[27.85,0.046],[28.0,0.019],[28.15,0.065],[28.3,0.009],[28.5,0.102],[28.6,0.013],[28.75,0.083],[28.9,0.006],[29.05,0.019],[29.2,0.056],[29.35,0.003],[29.55,0.204],[29.65,0.019],[29.8,0.003],[29.9,null],[30.2,0.019],[30.3,0.074],[30.4,0.003],[30.55,0.037],[30.7,0.028],[30.85,0.05],[31.0,0.139],[31.1,0.019],[31.3,0.083],[31.45,0.056],[31.6,0.028],[31.75,0.006],[31.9,0.046],[32.05,0.028],[32.2,0.139],[32.35,0.028],[32.5,0.003],[32.6,0.083],[32.75,0.019],[32.9,0.003],[33.05,0.056],[33.2,0.013],[33.4,0.087],[33.55,0.028],[33.7,0.013],[33.85,0.05],[34.0,0.028],[34.2,0.02],[34.35,0.046],[34.5,0.12],[34.6,0.046],[34.8,0.006],[35.1,0.003],[35.3,0.028],[35.5,0.003],[35.75,0.003],[35.8,null],[38.0,0.009],[38.3,0.003],[38.6,0.003],[38.9,0.003],[39.4,0.003],[39.9,0.009],[40.15,0.019],[40.4,0.037],[40.6,0.083],[40.8,0.02],[41.0,0.019],[41.2,0.056],[41.45,0.074],[41.6,0.111],[41.8,0.028],[41.95,0.046],[42.1,0.056],[42.3,0.074],[42.5,0.157],[42.65,0.065],[42.8,0.028],[42.95,0.019],[43.1,0.046],[43.3,0.006],[43.45,0.028],[43.6,0.019],[43.75,0.006],[43.9,0.003],[44.05,0.065],[44.15,null],[45.3,0.065],[45.45,0.12],[45.6,0.213],[45.7,0.185],[45.8,0.185],[45.95,0.222],[46.1,0.231],[46.3,0.25],[46.45,0.3],[46.55,0.342],[46.65,0.268],[46.8,0.26],[46.9,0.287],[47.05,0.25],[47.2,0.231],[47.35,0.2],[47.45,0.194],[47.6,0.278],[47.7,0.2],[47.8,0.083],[47.9,0.02],[48.0,0.003],[48.2,0.006],[48.4,0.009],[48.6,0.083],[48.75,0.05],[48.9,0.061],[49.05,0.037],[49.15,0.098],[49.35,0.056],[49.55,0.157],[49.65,0.065],[49.8,0.093],[49.96,0.111],[50.1,0.083],[50.2,0.098],[50.35,0.12],[50.5,0.185],[50.6,0.15],[50.7,0.13],[50.8,0.16],[50.9,0.157],[51.05,0.13],[51.2,0.12],[51.3,0.139],[51.4,0.102],[51.55,0.111],[51.7,0.08],[51.8,0.05],[51.9,0.043],[52.05,0.065],[52.15,0.065],[52.3,0.037],[52.4,0.031],[52.5,0.015],[52.6,0.009],[52.75,0.003],[52.9,0.003],[53.1,0.006],[53.25,0.02],[53.4,0.074],[53.5,0.019],[53.6,0.019],[53.75,0.009],[53.85,0.009],[54.0,0.02],[54.2,0.006],[54.4,0.019],[54.6,0.019],[54.8,0.006],[55.0,0.003],[55.2,0.013],[55.3,0.003],[55.5,0.009],[55.7,0.009],[55.85,0.02],[56.0,0.003],[56.2,0.013],[56.4,0.056],[56.5,0.009],[56.65,0.009],[56.8,0.028],[57.0,0.019],[57.15,0.009],[57.3,0.046],[57.5,0.006],[57.6,0.05],[57.75,0.019],[57.9,0.006],[58.0,0.006],[58.2,0.003],[58.35,0.02],[58.5,0.037],[58.6,0.013],[58.7,0.019],[58.85,0.04],[59.0,0.028],[59.1,0.046],[59.2,0.056],[59.35,0.065],[59.45,0.083],[59.6,0.093],[59.7,0.111],[59.8,0.12],[59.9,0.157],[60.05,0.13],[60.2,0.13],[60.3,0.139],[60.4,0.139],[60.55,0.1],[60.7,0.074],[60.85,0.009],[61.0,0.003],[61.2,0.009],[61.4,0.006],[61.6,0.013],[61.8,0.003],[62.0,0.019],[62.1,0.019],[62.25,0.037],[62.4,0.065],[62.5,0.046],[62.6,0.028],[62.75,0.065],[62.9,0.083],[63.0,0.046],[63.1,0.056],[63.25,0.074],[63.35,0.08],[63.5,0.065],[63.6,0.068],[63.7,0.087],[63.8,0.098],[63.95,0.08],[64.1,0.068],[64.2,0.08],[64.3,0.08],[64.45,0.1],[64.6,0.139],[64.7,0.1],[64.8,0.098],[64.9,0.087],[65.0,0.08],[65.15,0.065],[65.3,0.056],[65.4,0.06],[65.5,0.05],[65.65,0.04],[65.8,0.028],[65.9,0.013],[66.0,0.006],[66.15,0.013],[66.3,0.003],[66.5,0.003],[66.6,0.019],[66.75,0.006],[66.9,0.028],[67.0,0.019],[67.2,0.009],[67.35,0.028],[67.5,0.006],[67.7,0.028],[67.85,0.037],[68.0,0.019],[68.1,0.009],[68.2,0.009],[68.4,0.02],[68.6,0.037],[68.7,0.046],[68.8,0.006],[68.95,0.019],[69.1,0.019],[69.3,0.037],[69.5,0.046],[69.6,0.019],[69.7,0.006],[69.9,0.003],[70.1,0.009],[70.3,0.003],[70.5,0.019],[70.65,0.028],[70.8,0.028],[70.9,0.006]];

const weekTickDays = [0, 7, 14, 21, 28, 35, 42, 49, 56, 63, 70];

// ---- layout ----
const W = 1336, H = 814;
const plotLeft = 104, plotRight = 1321;
const BLACK = "#111111", RED = "#a01010";

const start = Date.UTC(2023, 5, 1);
const day = t => new Date(start + t * 864e5);

const x = d3.scaleUtc()
  .domain([day(-2.05), day(71.45)])
  .range([plotLeft, plotRight]);

const panels = [
  { id: "a", top: 19, bottom: 118, ylim: [-0.25, 12.25], ticks: d3.range(0, 13, 2), minor: 0.5, fmt: d3.format("d"),
    title: ["β", "(Mm⁻¹ sr⁻¹)"], series: [[beta, BLACK]] },
  { id: "b", top: 180, bottom: 278, ylim: [33.7, 95.7], ticks: d3.range(40, 91, 10), minor: 2, fmt: d3.format("d"),
    title: ["RH (%)"], series: [[rh, BLACK]] },
  { id: "c", top: 337, bottom: 438, ylim: [-0.6, 30.9], ticks: [0, 10, 20, 30], minor: 2, fmt: d3.format("d"),
    title: ["N0.53", "(cm⁻³)"], series: [[n053Red, RED], [n053Black, BLACK]] },
  { id: "d", top: 497, bottom: 597, ylim: [-0.4, 10.0], ticks: d3.range(0, 11, 2), minor: 0.5, fmt: d3.format("d"),
    title: ["N1", "(cm⁻³)"], series: [[n1Red, RED], [n1Black, BLACK]] },
  { id: "e", top: 655, bottom: 755, ylim: [-0.0165, 0.533], ticks: [0, 0.1, 0.2, 0.3, 0.4, 0.5], minor: 0.02, fmt: d3.format(".1f"),
    title: ["N3", "(cm⁻³)"], series: [[n3Red, RED], [n3Black, BLACK]] }
];

const svg = d3.select("#chart").append("svg")
  .attr("width", W)
  .attr("height", H);

const defs = svg.append("defs");

const minorDays = d3.range(-7, 73).map(i => i * 1.4).filter(t => t > -2.05 && t < 71.45);

panels.forEach(p => {
  const y = d3.scaleLinear().domain(p.ylim).range([p.bottom, p.top]);
  const g = svg.append("g").attr("class", "panel-" + p.id);

  // minor horizontal grid
  const lo = Math.ceil(p.ylim[0] / p.minor), hi = Math.floor(p.ylim[1] / p.minor);
  const minorVals = d3.range(lo, hi + 1).map(i => +(i * p.minor).toFixed(4));
  g.append("g").selectAll("line").data(minorVals).join("line")
    .attr("x1", plotLeft).attr("x2", plotRight)
    .attr("y1", d => y(d)).attr("y2", d => y(d))
    .attr("stroke", "#e3e3e3").attr("stroke-width", 0.7);

  // minor vertical grid
  g.append("g").selectAll("line").data(minorDays).join("line")
    .attr("x1", d => x(day(d))).attr("x2", d => x(day(d)))
    .attr("y1", p.top).attr("y2", p.bottom)
    .attr("stroke", "#dddddd").attr("stroke-width", 0.7);

  // major horizontal grid
  g.append("g").selectAll("line").data(p.ticks).join("line")
    .attr("x1", plotLeft).attr("x2", plotRight)
    .attr("y1", d => y(d)).attr("y2", d => y(d))
    .attr("stroke", "#c6c6c6").attr("stroke-width", 0.8);

  // major vertical grid (weekly)
  g.append("g").selectAll("line").data(weekTickDays).join("line")
    .attr("x1", d => x(day(d))).attr("x2", d => x(day(d)))
    .attr("y1", p.top).attr("y2", p.bottom)
    .attr("stroke", "#b4b4b4").attr("stroke-width", 0.9);

  // top edge line
  g.append("line")
    .attr("x1", plotLeft).attr("x2", plotRight)
    .attr("y1", p.top).attr("y2", p.top)
    .attr("stroke", "#e0e0e0").attr("stroke-width", 0.8);

  // clip for the data
  defs.append("clipPath").attr("id", "clip-" + p.id)
    .append("rect")
    .attr("x", plotLeft).attr("y", p.top)
    .attr("width", plotRight - plotLeft).attr("height", p.bottom - p.top);

  const line = d3.line()
    .defined(d => d[1] !== null)
    .x(d => x(day(d[0])))
    .y(d => y(d[1]));

  const lines = g.append("g").attr("clip-path", "url(#clip-" + p.id + ")");
  p.series.forEach(([data, color]) => {
    lines.append("path")
      .datum(data)
      .attr("d", line)
      .attr("fill", "none")
      .attr("stroke", color)
      .attr("stroke-width", 1.45)
      .attr("stroke-linejoin", "round");
  });

  // y axis (labels only)
  const yAxis = g.append("g")
    .attr("transform", `translate(${plotLeft},0)`)
    .call(d3.axisLeft(y).tickValues(p.ticks).tickFormat(p.fmt).tickSize(0).tickPadding(16));
  yAxis.select(".domain").remove();
  yAxis.selectAll("text")
    .style("font-size", "13.5px")
    .style("font-family", "DejaVu Sans, sans-serif")
    .attr("fill", "#222");

  // x axis (labels only)
  const xAxis = g.append("g")
    .attr("transform", `translate(0,${p.bottom})`)
    .call(d3.axisBottom(x).tickValues(weekTickDays.map(day)).tickFormat(d3.utcFormat("%m/%d")).tickSize(0).tickPadding(15));
  xAxis.select(".domain").remove();
  xAxis.selectAll("text")
    .style("font-size", "13.5px")
    .style("font-family", "DejaVu Sans, sans-serif")
    .attr("fill", "#222");

  // panel letter
  g.append("text")
    .attr("x", plotLeft + 4)
    .attr("y", p.top + 23)
    .style("font-size", "16px")
    .attr("fill", "#222")
    .text("(" + p.id + ")");

  // y title
  const cy = (p.top + p.bottom) / 2;
  const xs = p.title.length === 2 ? [23, 45] : [37];
  p.title.forEach((t, i) => {
    g.append("text")
      .attr("transform", `translate(${xs[i]},${cy}) rotate(-90)`)
      .attr("text-anchor", "middle")
      .attr("dominant-baseline", "central")
      .style("font-size", "17.5px")
      .attr("fill", "#222")
      .text(t);
  });
});

svg.append("text")
  .attr("x", (plotLeft + plotRight) / 2)
  .attr("y", 806)
  .attr("text-anchor", "middle")
  .style("font-size", "18.5px")
  .attr("fill", "#222")
  .text("Date (UTC)");
</script>
</body>
</html>
